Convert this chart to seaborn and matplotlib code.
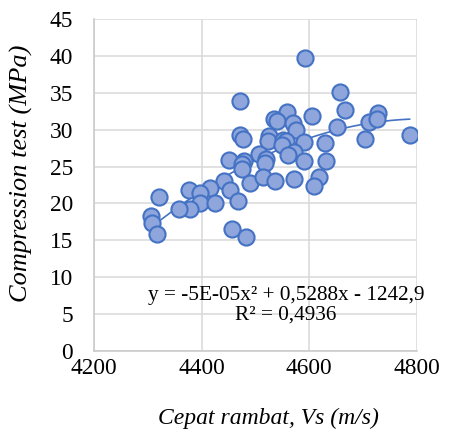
import numpy as np
import pandas as pd
import matplotlib
matplotlib.use("Agg")
import matplotlib.pyplot as plt
import seaborn as sns

# Cepat rambat Vs (m/s) vs compression test (MPa)
vs = [4592, 4658, 4471, 4667, 4728, 4559, 4606, 4534, 4541, 4712,
      4726, 4570, 4575, 4652, 4472, 4477, 4526, 4523, 4551, 4557,
      4549, 4590, 4630, 4703, 4787, 4571, 4561, 4507, 4519, 4517,
      4451, 4478, 4475, 4475, 4590, 4632, 4490, 4514, 4537, 4571,
      4619, 4608, 4442, 4453, 4416, 4377, 4320, 4397, 4397, 4425,
      4379, 4358, 4468, 4306, 4307, 4318, 4456, 4482]
mpa = [39.7, 35.1, 33.9, 32.7, 32.3, 32.4, 31.9, 31.5, 31.2, 31.1,
       31.5, 30.9, 30.0, 30.3, 29.3, 28.7, 29.1, 28.4, 28.6, 28.5,
       27.9, 28.3, 28.2, 28.8, 29.3, 27.0, 26.5, 26.7, 26.0, 25.5,
       25.9, 25.8, 25.4, 24.7, 25.7, 25.7, 22.8, 23.6, 23.1, 23.3,
       23.6, 22.4, 23.0, 21.8, 22.1, 21.8, 20.9, 21.4, 20.1, 20.1,
       19.3, 19.3, 20.3, 18.3, 17.4, 15.9, 16.5, 15.4]

x_ticks = [4200, 4400, 4600, 4800]
y_ticks = [0, 5, 10, 15, 20, 25, 30, 35, 40, 45]
eq_text = "y = -5E-05x² + 0,5288x - 1242,9\nR² = 0,4936"

df = pd.DataFrame({"Vs": vs, "MPa": mpa})

sns.set_theme(style="whitegrid")
plt.rcParams["font.family"] = ["Liberation Serif", "DejaVu Serif"]

fig = plt.figure(figsize=(4.59, 4.30), dpi=100)
ax = fig.add_axes([0.2048, 0.1837, 0.7033, 0.7721])

grid_c = "#D9D9D9"
blue = "#4472C4"

# 2nd order trendline (same kind as Excel's polynomial trendline)
coef = np.polyfit(df["Vs"], df["MPa"], 2)
xs = np.linspace(df["Vs"].min(), df["Vs"].max(), 200)
ax.plot(xs, np.polyval(coef, xs), color=blue, lw=1.2, zorder=2)

sns.scatterplot(data=df, x="Vs", y="MPa", ax=ax, s=135,
                color="#8EA6DB", edgecolor=blue, linewidth=1.5, zorder=3)

ax.set_xlim(4200, 4800)
ax.set_ylim(0, 45)
ax.set_xticks(x_ticks)
ax.set_yticks(y_ticks)
ax.grid(True, color=grid_c, lw=1.1)
for side in ["top", "right"]:
    ax.spines[side].set_visible(False)
for side in ["left", "bottom"]:
    ax.spines[side].set_color("#C8C8C8")
    ax.spines[side].set_linewidth(1.1)

ax.tick_params(axis="x", labelsize=16.8, colors="black", length=0, pad=5)
ax.tick_params(axis="y", labelsize=16.8, colors="black", length=0, pad=15)

ax.set_xlabel("Cepat rambat, Vs (m/s)", fontsize=17, style="italic", color="black")
ax.set_ylabel("Compression test (MPa)", fontsize=19, style="italic", color="black")
ax.xaxis.set_label_coords(0.541, -0.172)
ax.yaxis.set_label_coords(-0.19, 0.536)

ax.text(4557, 6.2, eq_text, ha="center", va="center", fontsize=15.3,
        color="black", linespacing=1.05, zorder=4)

fig.savefig("out.png", dpi=100)
